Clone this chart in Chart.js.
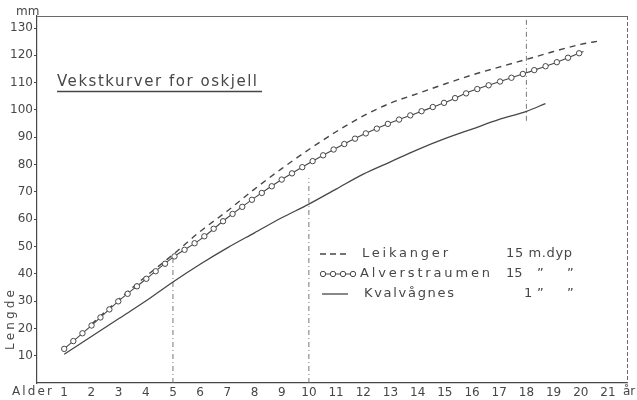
<!DOCTYPE html>
<html>
<head>
<meta charset="utf-8">
<script src="https://cdn.jsdelivr.net/npm/chart.js@4.4.0/dist/chart.umd.min.js"></script>
<style>
html, body { margin: 0; padding: 0; background: #fff; }
</style>
</head>
<body>
<canvas id="vekst" width="637" height="400"></canvas>
<script>
// tick labels
var ageTicks = [1, 2, 3, 4, 5, 6, 7, 8, 9, 10, 11, 12, 13, 14, 15, 16, 17, 18, 19, 20, 21];
var lengthTicks = [10, 20, 30, 40, 50, 60, 70, 80, 90, 100, 110, 120, 130];

// Leikanger 15 m dyp
var leikAge = [2, 3, 4, 5, 6, 7, 8, 9, 10, 11, 12, 13, 14, 15, 16, 17, 18, 19, 20, 20.7];
var leikLen = [21.5, 30.5, 39, 47, 55.5, 63, 71, 78.5, 85.5, 92, 97.8, 102.5, 106, 109.5, 112.8, 115.7, 118.5, 121.4, 124, 125.3];

// Alverstraumen 15 m dyp
var alvAge = [1, 2, 3, 4, 5, 6, 7, 8, 9, 10, 11, 12, 13, 14, 15, 16, 17, 18, 19, 20, 20.1];
var alvLen = [12.5, 21, 30, 38, 46, 52.5, 60.5, 67.8, 74.5, 80.5, 86, 91, 95.3, 99, 102.7, 107, 110.3, 113.6, 117, 121, 121.4];

// Kvalvågnes 1 m dyp
var kvaAge = [1, 2, 3, 4, 5, 6, 7, 8, 9, 10, 11, 12, 13, 14, 15, 16, 17, 18, 18.7];
var kvaLen = [10.5, 17, 23.5, 30, 37, 43.5, 49.5, 55, 60.5, 65.5, 71, 76.5, 81, 85.5, 89.5, 93, 96.5, 99.5, 102.3];

// dash-dot marker lines at 5, 10 and 18 years
var refAge = [5, 10, 18];
var refFrom = [0, 0, 96];
var refTo = [47, 75, 134];

var ink = '#474747';
var pale = '#6a6a6a';
var font = "'DejaVu Sans', sans-serif";

function pts(xs, ys) {
    return xs.map(function (x, i) { return { x: x, y: ys[i] }; });
}

// stencil lettering: stretch text to a given width
function spaced(ctx, text, x, y, w) {
    ctx.letterSpacing = '0px';
    var m = ctx.measureText(text).width;
    var gap = w ? (w - m) / (text.length - 1) : 0;
    ctx.letterSpacing = gap + 'px';
    ctx.fillText(text, x, y);
    ctx.letterSpacing = '0px';
}

function ring(ctx, x, y, r) {
    ctx.beginPath();
    ctx.arc(x, y, r || 2.7, 0, Math.PI * 2);
    ctx.fill();
    ctx.stroke();
}

// open circles along the Alverstraumen curve, evenly spaced
function drawRings(ctx, p, step) {
    ctx.save();
    ctx.strokeStyle = ink;
    ctx.fillStyle = '#fff';
    ctx.lineWidth = 1;
    ring(ctx, p[0].x, p[0].y);
    var carry = 0;
    for (var i = 1; i < p.length; i++) {
        var dx = p[i].x - p[i - 1].x, dy = p[i].y - p[i - 1].y;
        var len = Math.hypot(dx, dy);
        var d = step - carry;
        while (d <= len) {
            ring(ctx, p[i - 1].x + dx * d / len, p[i - 1].y + dy * d / len);
            d += step;
        }
        carry = len - (d - step);
    }
    ctx.restore();
}

var datasets = [
    { data: pts(leikAge, leikLen), borderColor: ink, borderWidth: 1.4, borderDash: [6, 5], pointRadius: 0, cubicInterpolationMode: 'monotone' },
    { data: pts(alvAge, alvLen), borderColor: ink, borderWidth: 1.1, pointRadius: 0, cubicInterpolationMode: 'monotone' },
    { data: pts(kvaAge, kvaLen), borderColor: ink, borderWidth: 1.3, pointRadius: 0, cubicInterpolationMode: 'monotone' }
];
refAge.forEach(function (a, i) {
    datasets.push({ data: [{ x: a, y: refFrom[i] }, { x: a, y: refTo[i] }], borderColor: '#777', borderWidth: 1, borderDash: [5, 3, 1, 3], pointRadius: 0 });
});

var extras = {
    id: 'extras',
    afterDatasetsDraw: function (chart) {
        var ctx = chart.ctx, a = chart.chartArea;
        drawRings(ctx, chart.getDatasetMeta(1).data, 12);

        ctx.save();
        // top and right frame
        ctx.strokeStyle = pale;
        ctx.lineWidth = 1;
        ctx.beginPath();
        ctx.moveTo(a.left, a.top + 0.5);
        ctx.lineTo(a.right, a.top + 0.5);
        ctx.stroke();
        ctx.setLineDash([4, 2]);
        ctx.beginPath();
        ctx.moveTo(a.right + 0.5, a.top);
        ctx.lineTo(a.right + 0.5, a.bottom);
        ctx.stroke();
        ctx.setLineDash([]);

        ctx.fillStyle = ink;
        ctx.textBaseline = 'alphabetic';

        // title
        ctx.font = '15px ' + font;
        spaced(ctx, 'Vekstkurver for oskjell', 57, 86, 200);
        ctx.strokeStyle = ink;
        ctx.lineWidth = 1.3;
        ctx.beginPath();
        ctx.moveTo(57, 91.5);
        ctx.lineTo(262, 91.5);
        ctx.stroke();

        // legend
        var rows = [254, 274, 294];
        ctx.lineWidth = 1.3;
        ctx.setLineDash([6, 4]);
        ctx.beginPath(); ctx.moveTo(320, rows[0]); ctx.lineTo(347, rows[0]); ctx.stroke();
        ctx.setLineDash([]);
        ctx.lineWidth = 1;
        ctx.beginPath(); ctx.moveTo(320, rows[1]); ctx.lineTo(354, rows[1]); ctx.stroke();
        drawRings(ctx, [{ x: 323, y: rows[1] }, { x: 354, y: rows[1] }], 10);
        ctx.lineWidth = 1.3;
        ctx.beginPath(); ctx.moveTo(322, rows[2]); ctx.lineTo(348, rows[2]); ctx.stroke();

        ctx.font = '13px ' + font;
        ctx.textBaseline = 'middle';
        spaced(ctx, 'Leikanger', 362, rows[0], 86);
        spaced(ctx, 'Alverstraumen', 360, rows[1], 130);
        spaced(ctx, 'Kvalvågnes', 364, rows[2], 90);
        spaced(ctx, '15 m.dyp', 506, rows[0], 66);
        ctx.fillText('15', 506, rows[1]);
        ctx.fillText('\u201D', 537, rows[1]);
        ctx.fillText('\u201D', 567, rows[1]);
        ctx.fillText('1', 524, rows[2]);
        ctx.fillText('\u201D', 537, rows[2]);
        ctx.fillText('\u201D', 567, rows[2]);

        // axis words
        ctx.font = '12px ' + font;
        ctx.textBaseline = 'middle';
        spaced(ctx, 'Alder', 12, 392, 40);
        ctx.fillText('år', 623, 392);
        ctx.fillText('mm', 16, 12);
        ctx.translate(11, 350);
        ctx.rotate(-Math.PI / 2);
        spaced(ctx, 'Lengde', 0, 0, 60);
        ctx.restore();
    }
};

new Chart(document.getElementById('vekst'), {
    type: 'line',
    data: { datasets: datasets },
    plugins: [extras],
    options: {
        responsive: false,
        animation: false,
        devicePixelRatio: 1,
        layout: { padding: { top: 16, right: 10, left: 0, bottom: 0 } },
        plugins: { legend: { display: false }, tooltip: { enabled: false } },
        scales: {
            x: {
                type: 'linear',
                min: 0,
                max: 21.7,
                afterBuildTicks: function (s) { s.ticks = ageTicks.map(function (v) { return { value: v }; }); },
                afterFit: function (s) { s.height = 17; },
                grid: { display: false, drawTicks: false },
                border: { display: true, color: ink, width: 1.2 },
                ticks: { padding: 3, color: ink, font: { family: font, size: 12 }, maxRotation: 0, autoSkip: false }
            },
            y: {
                type: 'linear',
                min: 0,
                max: 134.4,
                afterBuildTicks: function (s) { s.ticks = lengthTicks.map(function (v) { return { value: v }; }); },
                afterFit: function (s) { s.width = 37; },
                grid: { display: true, drawOnChartArea: false, drawTicks: true, tickLength: 3, color: ink },
                border: { display: true, color: ink, width: 1.2 },
                ticks: { padding: 1, color: ink, font: { family: font, size: 12 }, autoSkip: false }
            }
        }
    }
});
</script>
</body>
</html>
